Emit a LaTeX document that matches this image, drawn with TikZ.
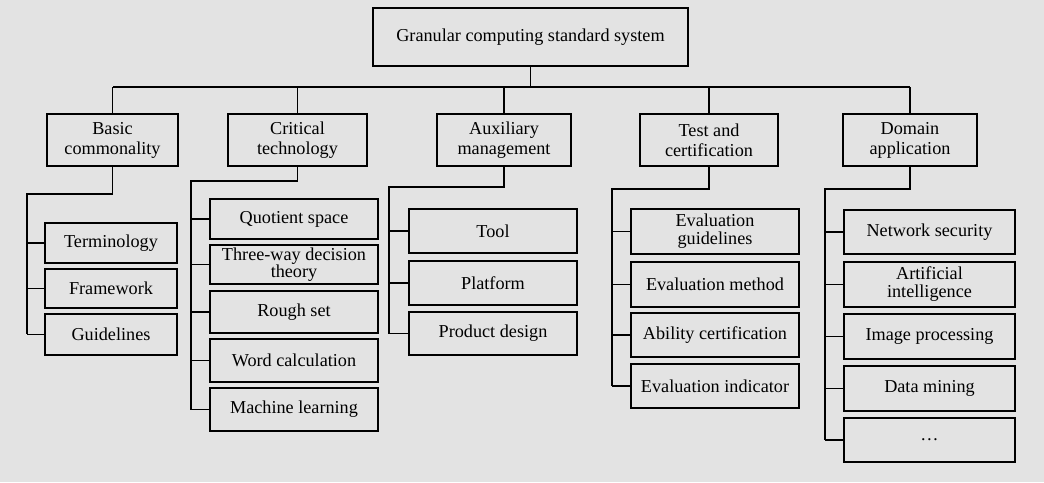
\documentclass[tikz,border=0pt]{standalone}
\usepackage{fontspec}
\setmainfont{Liberation Serif}
\begin{document}
\begin{tikzpicture}[x=1pt,y=-1pt,
  bx/.style={draw,line width=1.3pt,align=center,inner sep=1pt,font=\fontsize{18.2}{20}\selectfont},
  ln/.style={line width=1.3pt}]
\fill[gray!22] (0,0) rectangle (1044,482);
\useasboundingbox (0,0) rectangle (1044,482);
\newcommand\bb[6]{\node[bx,minimum width={(#4-#3)*1pt},minimum height={(#6-#5)*1pt}] (#1) at ({(#3+#4)/2},{(#5+#6)/2}) {#2};}
\bb{root}{Granular computing standard system}{373}{688}{8}{66}
\bb{a}{Basic\\commonality}{47}{178}{114}{166}
\bb{b}{Critical\\technology}{228}{367}{114}{166}
\bb{c}{Auxiliary\\management}{437}{571}{114}{166}
\bb{d}{Test and\\certification}{640}{778}{114}{166}
\bb{e}{Domain\\application}{843}{977}{114}{166}
\coordinate (busL) at (113,87);
\coordinate (busR) at (910,87);
\draw[ln] (root.south) -- (root.south |- busL);
\draw[ln] (busL) -- (busR);
\foreach \n in {a,b,c,d,e} \draw[ln] (\n.north |- busL) -- (\n.north);
% children
\bb{a1}{Terminology}{45}{177}{223}{263}
\bb{a2}{Framework}{45}{177}{269}{308}
\bb{a3}{Guidelines}{45}{177}{314}{355}
\coordinate (ta) at (27,194);
\draw[ln] (a.south) -- (a.south |- ta) -- (ta) -- (27,334);
\foreach \n in {a1,a2,a3} \draw[ln] (27,0 |- \n.west) -- (\n.west);
\bb{b1}{Quotient space}{210}{378}{199}{239}
\bb{b2}{Three-way decision\\[-3pt]theory}{210}{378}{245}{284}
\bb{b3}{Rough set}{210}{378}{291}{333}
\bb{b4}{Word calculation}{210}{378}{339}{382}
\bb{b5}{Machine learning}{210}{378}{388}{431}
\coordinate (tb) at (191,181);
\draw[ln] (b.south) -- (b.south |- tb) -- (tb) -- (191,410);
\foreach \n in {b1,b2,b3,b4,b5} \draw[ln] (191,0 |- \n.west) -- (\n.west);
\bb{c1}{Tool}{409}{577}{209}{253}
\bb{c2}{Platform}{409}{577}{261}{305}
\bb{c3}{Product design}{409}{577}{312}{355}
\coordinate (tc) at (389,187);
\draw[ln] (c.south) -- (c.south |- tc) -- (tc) -- (389,334);
\foreach \n in {c1,c2,c3} \draw[ln] (389,0 |- \n.west) -- (\n.west);
\bb{d1}{Evaluation\\[-2pt]guidelines}{631}{799}{209}{254}
\bb{d2}{Evaluation method}{631}{799}{262}{307}
\bb{d3}{Ability certification}{631}{799}{313}{357}
\bb{d4}{Evaluation indicator}{631}{799}{364}{408}
\coordinate (td) at (612,189);
\draw[ln] (d.south) -- (d.south |- td) -- (td) -- (612,386);
\foreach \n in {d1,d2,d3,d4} \draw[ln] (612,0 |- \n.west) -- (\n.west);
\bb{e1}{Network security}{844}{1015}{210}{254}
\bb{e2}{Artificial\\[-2pt]intelligence}{844}{1015}{262}{307}
\bb{e3}{Image processing}{844}{1015}{314}{359}
\bb{e4}{Data mining}{844}{1015}{366}{411}
\bb{e5}{\dots}{844}{1015}{418}{462}
\coordinate (te) at (825,189);
\draw[ln] (e.south) -- (e.south |- te) -- (te) -- (825,440);
\foreach \n in {e1,e2,e3,e4,e5} \draw[ln] (825,0 |- \n.west) -- (\n.west);
\end{tikzpicture}
\end{document}
